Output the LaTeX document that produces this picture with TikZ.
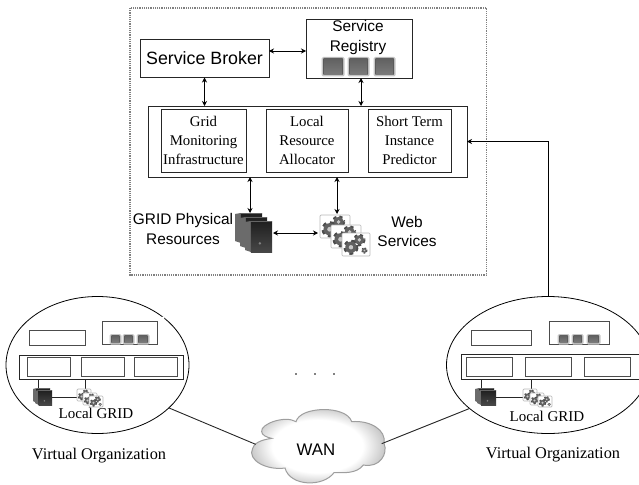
\documentclass[tikz,border=0pt]{standalone}
\usepackage{fontspec}
\setmainfont{Liberation Serif}
\newfontfamily\arialf{Liberation Sans}
\usetikzlibrary{shapes.geometric,calc,arrows.meta}
\pgfdeclareradialshading{wanshade}{\pgfpoint{0bp}{0bp}}{color(0bp)=(white);color(16bp)=(white);color(28bp)=(black!33);color(50bp)=(black!50)}
\tikzset{
  frameline/.style={draw=black!85,line width=.95pt},
  xbox/.style={frameline,fill=white,inner sep=0pt,outer sep=0pt,anchor=north west},
  sbox/.style={draw=black!70,line width=.95pt,fill=white,inner sep=0pt,outer sep=0pt,anchor=north west},
  seriftext/.style={font=\fontsize{14.8}{19}\selectfont,align=center,inner sep=0pt},
  sanstext/.style={font=\arialf\fontsize{15.4}{19.5}\selectfont,align=center,inner sep=0pt},
  orgtext/.style={font=\fontsize{16.3}{19}\selectfont,inner sep=0pt},
  gridtext/.style={font=\fontsize{15}{16}\selectfont,inner sep=0pt},
  org/.style={draw=black,line width=.8pt,ellipse,inner sep=0pt,outer sep=0pt},
  biarrow/.style={line width=.9pt,{Stealth[length=5pt,width=5pt]}-{Stealth[length=5pt,width=5pt]}},
  link/.style={line width=.9pt,draw=black!85}
}
% cube: x1 y1 x2 y2
\newcommand{\regcube}[4]{%
  \fill[black!22,rounded corners=1.5pt] (#1-1.5,#2-1) rectangle (#3+1.5,#4+1.5);
  \fill[black!65,rounded corners=1pt] (#1,#2) rectangle (#3,#4);
  \shade[top color=black!62,bottom color=black!52] (#1+.8,#2+.8) rectangle (#3-.8,#4-.8);
}
% gear: cx cy r
\newcommand{\geargly}[3]{%
  \draw[black!70,line width=#3*0.55pt,dash pattern=on #3*0.55pt off #3*0.45pt] (#1,#2) circle[radius=#3*0.85];
  \fill[black!62] (#1,#2) circle[radius=#3*0.85];
  \fill[black!22] (#1,#2) circle[radius=#3*0.33];
}
% card: x y w h
\newcommand{\gearcard}[4]{%
  \draw[black!28,fill=white,line width=.7pt,rounded corners=1pt] (#1,#2) rectangle ++(#3,#4);
  \geargly{#1+0.62*#3}{#2+0.3*#4}{0.2*#3}
  \geargly{#1+0.32*#3}{#2+0.62*#4}{0.24*#3}
  \geargly{#1+0.8*#3}{#2+0.76*#4}{0.1*#3}
}
% tower: x y w h
\newcommand{\tower}[4]{%
  \fill[black!58] (#1,#2+1) -- (#1+0.22*#3,#2) -- (#1+0.22*#3,#2+#4) -- (#1,#2+#4-2) -- cycle;
  \shade[top color=black!88,bottom color=black!72] (#1+0.22*#3,#2) rectangle (#1+#3,#2+#4);
  \fill[black!45] (#1+0.22*#3,#2) -- (#1+#3,#2) -- (#1+#3-0.5,#2+0.7) -- (#1+0.22*#3,#2+0.7) -- cycle;
  \fill[black!50] (#1+0.55*#3,#2+0.72*#4) circle[radius=0.05*#3];
}
\begin{document}
\begin{tikzpicture}[x=1pt,y=-1pt]
\useasboundingbox (0,0) rectangle (639,484);
% outer dashed frame
\draw[black!50,line width=1.2pt,dash pattern=on 1.2pt off 1pt] (130,8) rectangle (486.5,275);
% top
\node[xbox,minimum width=129pt,minimum height=38pt,font=\arialf\fontsize{17.8}{20}\selectfont] (broker) at (140,39.5) {Service Broker};
\node[xbox,minimum width=106pt,minimum height=59pt] (registry) at (306,19) {};
\node[sanstext] (reglabel) at (358,37.5) {Service\\[.5pt]Registry};
\regcube{323}{58}{343}{75}\regcube{349}{58}{368}{75}\regcube{375}{58}{394}{75}
\node[xbox,minimum width=319pt,minimum height=71pt] (layer) at (148,106) {};
\node[xbox,minimum width=85pt,minimum height=63pt,seriftext] (gridmon) at (161,109) {Grid\\Monitoring\\Infrastructure};
\node[xbox,minimum width=82pt,minimum height=63pt,seriftext] (lra) at (266,109) {Local\\Resource\\Allocator};
\node[xbox,minimum width=83pt,minimum height=63pt,seriftext] (stip) at (368,109) {Short Term\\Instance\\Predictor};
% physical resources icon
\node[sanstext] (physlabel) at (183,229) {GRID Physical\\Resources};
\coordinate (srvtop) at (250,213);
\coordinate (srvright) at (273,233);
\tower{235}{213}{27}{30}\tower{240}{217}{27}{31}\tower{245}{221}{27}{31}
% web services icon
\coordinate (webtop) at (337,214);
\coordinate (webleft) at (318,233);
\gearcard{320}{215}{30}{23}\gearcard{331}{225}{30}{23}\gearcard{342}{233}{28}{23}
\node[sanstext] (weblabel) at (407,231.5) {Web\\Services};
% connectors
\draw[biarrow] (broker.east |- reglabel) ++(0,13.5) -- ++(37,0);
\draw[biarrow] (broker.south) -- (broker.south |- layer.north);
\draw[biarrow] (registry.south) ++(2,0) -- ($(registry.south |- layer.north)+(2,0)$);
\draw[biarrow] (srvtop) -- (srvtop |- layer.south);
\draw[biarrow] (webtop) -- (webtop |- layer.south);
\draw[biarrow] (srvright) -- (webleft);
% left VO
\node[org,minimum width=183pt,minimum height=137pt] (voa) at (97.5,365) {};
\fill[white] (163,318) circle[radius=1.6];
\node[sbox,minimum width=56pt,minimum height=15pt] (abrk) at (29,330) {};
\node[sbox,minimum width=55pt,minimum height=23pt] (areg) at (102,321) {};
\regcube{111}{335}{120}{343}\regcube{124}{335}{133}{343}\regcube{138}{335}{148}{343}
\node[xbox,minimum width=164pt,minimum height=24pt] (alayer) at (19,355) {};
\node[sbox,minimum width=43pt,minimum height=19pt] (abox1) at (27,357) {};
\node[sbox,minimum width=43pt,minimum height=19pt] (abox2) at (81,357) {};
\node[sbox,minimum width=43pt,minimum height=19pt] (abox3) at (134,357) {};
\coordinate (asrv) at (38,388);\coordinate (aweb) at (85,389);
\coordinate (asrvr) at (52,397);\coordinate (awebl) at (78,397);
\draw[link] (asrv |- alayer.south) -- (asrv);
\draw[link] (aweb |- alayer.south) -- (aweb);
\draw[link] (asrvr) -- (awebl);
\tower{33}{388}{17}{15}\tower{35}{390}{17}{15}
\gearcard{77}{389}{14}{12}\gearcard{83}{393}{14}{12}\gearcard{89}{396}{14}{11}
\node[gridtext] (alabel) at (96,413) {Local GRID};
\node[orgtext] (aorg) at (99,456) {Virtual Organization};
% right VO
\node[org,minimum width=203pt,minimum height=137pt] (vob) at (548,365) {};
\fill[white] (614,318) circle[radius=1.6];
\node[sbox,minimum width=60pt,minimum height=15pt] (bbrk) at (471,330) {};
\node[sbox,minimum width=60pt,minimum height=23pt] (breg) at (549,321) {};
\regcube{559}{335}{568}{343}\regcube{573}{335}{582}{343}\regcube{588}{335}{599}{343}
\node[xbox,minimum width=178pt,minimum height=25pt] (blayer) at (461,354) {};
\node[sbox,minimum width=46pt,minimum height=19pt] (bbox1) at (466,357) {};
\node[sbox,minimum width=46pt,minimum height=19pt] (bbox2) at (525,357) {};
\node[sbox,minimum width=46pt,minimum height=19pt] (bbox3) at (584,357) {};
\coordinate (bsrv) at (481,388);\coordinate (bweb) at (531,389);
\coordinate (bsrvr) at (496,397);\coordinate (bwebl) at (523,397);
\draw[link] (bsrv |- blayer.south) -- (bsrv);
\draw[link] (bweb |- blayer.south) -- (bweb);
\draw[link] (bsrvr) -- (bwebl);
\tower{475}{388}{19}{15}\tower{477}{390}{19}{15}
\gearcard{523}{389}{14}{12}\gearcard{530}{393}{14}{12}\gearcard{538}{396}{14}{11}
\node[gridtext] (blabel) at (547,416) {Local GRID};
\node[orgtext] (borg) at (553,455) {Virtual Organization};
% arrow to top frame
\draw[line width=.8pt,-{Stealth[length=5pt,width=5pt]}] (vob.north) |- (layer.east);
% dots
\fill (296,374) circle[radius=.9] (315,374) circle[radius=.9] (334,374) circle[radius=.9];
% cloud
\begin{scope}[shift={(210,350)},scale=1/3]
\path[draw=black!38,line width=1pt,shading=wanshade]
 (155,245) .. controls (150,222) and (225,195) .. (258,215)
 .. controls (270,168) and (410,165) .. (425,215)
 .. controls (480,210) and (530,240) .. (522,280)
 .. controls (535,310) and (510,355) .. (460,345)
 .. controls (440,372) and (400,368) .. (372,368)
 .. controls (340,412) and (240,410) .. (225,354)
 .. controls (170,362) and (110,330) .. (128,295)
 .. controls (135,272) and (170,268) .. (185,265)
 .. controls (170,262) and (155,255) .. (155,245) -- cycle;
\coordinate (wanl) at (137,283);
\coordinate (wanr) at (515,281);
\end{scope}
\node[font=\arialf\fontsize{16.8}{18}\selectfont,inner sep=0pt] (wan) at (316,450) {WAN};
\draw[link] (voa.-31) -- (wanl);
\draw[link] (vob.209.7) -- (wanr);
\end{tikzpicture}
\end{document}
